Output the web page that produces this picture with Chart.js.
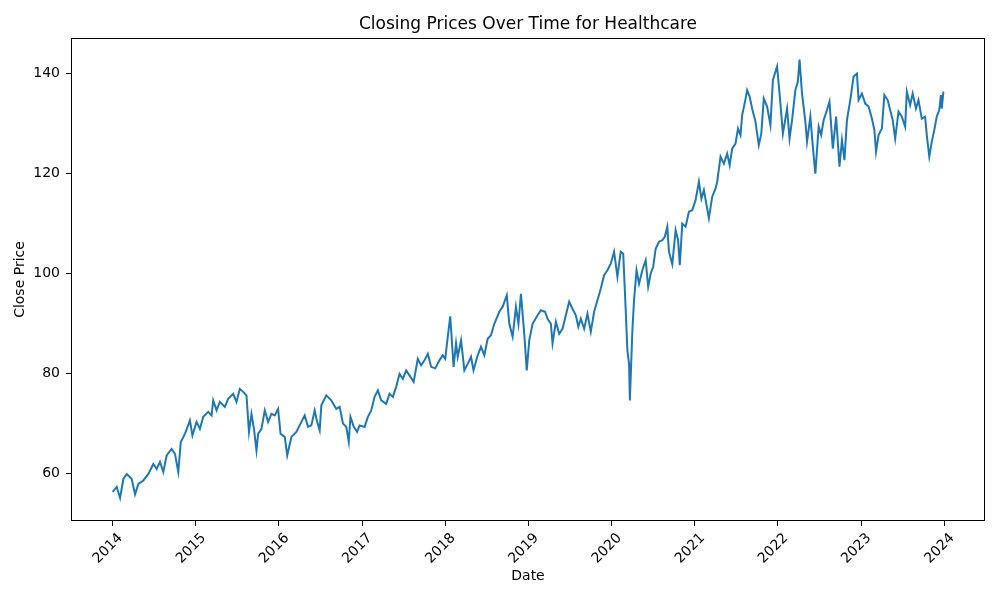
<!DOCTYPE html>
<html lang="en">
<head>
    <meta charset="UTF-8">
    <title>Closing Prices Over Time for Healthcare</title>
    <style>
        body { margin: 0; background: #fff; }
    </style>
</head>
<body>
    <canvas id="priceChart" width="1000" height="600"></canvas>

    <script src="https://cdn.jsdelivr.net/npm/chart.js"></script>
    <script>
        // dates as decimal years
        const dates = [
            2014.00, 2014.05, 2014.09, 2014.13, 2014.17, 2014.23, 2014.27, 2014.31, 2014.37, 2014.43,
            2014.49, 2014.53, 2014.57, 2014.61, 2014.65, 2014.71, 2014.75, 2014.79, 2014.82, 2014.87,
            2014.93, 2014.96, 2015.01, 2015.05, 2015.09, 2015.15, 2015.19, 2015.21, 2015.25, 2015.29,
            2015.35, 2015.39, 2015.45, 2015.49, 2015.53, 2015.57, 2015.61, 2015.64, 2015.67, 2015.70,
            2015.73, 2015.75, 2015.79, 2015.83, 2015.87, 2015.91, 2015.95, 2015.99, 2016.02, 2016.07,
            2016.10, 2016.15, 2016.21, 2016.27, 2016.31, 2016.35, 2016.39, 2016.43, 2016.46, 2016.49,
            2016.51, 2016.57, 2016.63, 2016.69, 2016.73, 2016.77, 2016.81, 2016.84, 2016.86, 2016.90,
            2016.94, 2016.97, 2017.03, 2017.07, 2017.11, 2017.15, 2017.19, 2017.23, 2017.29, 2017.33,
            2017.37, 2017.41, 2017.45, 2017.49, 2017.53, 2017.57, 2017.62, 2017.67, 2017.71, 2017.75,
            2017.79, 2017.83, 2017.88, 2017.93, 2017.97, 2018.00, 2018.03, 2018.06, 2018.10, 2018.13,
            2018.15, 2018.19, 2018.23, 2018.27, 2018.31, 2018.34, 2018.39, 2018.43, 2018.47, 2018.51,
            2018.55, 2018.59, 2018.65, 2018.69, 2018.74, 2018.77, 2018.81, 2018.85, 2018.88, 2018.91,
            2018.95, 2018.98, 2019.01, 2019.05, 2019.11, 2019.15, 2019.20, 2019.23, 2019.27, 2019.29,
            2019.33, 2019.37, 2019.41, 2019.45, 2019.49, 2019.53, 2019.57, 2019.60, 2019.63, 2019.67,
            2019.71, 2019.75, 2019.79, 2019.83, 2019.87, 2019.91, 2019.95, 2019.99, 2020.03, 2020.07,
            2020.11, 2020.14, 2020.17, 2020.19, 2020.21, 2020.22, 2020.25, 2020.27, 2020.30, 2020.33,
            2020.37, 2020.41, 2020.44, 2020.47, 2020.50, 2020.53, 2020.57, 2020.61, 2020.64, 2020.67,
            2020.69, 2020.73, 2020.77, 2020.80, 2020.82, 2020.85, 2020.89, 2020.93, 2020.97, 2021.01,
            2021.05, 2021.08, 2021.11, 2021.17, 2021.21, 2021.25, 2021.27, 2021.31, 2021.35, 2021.39,
            2021.42, 2021.45, 2021.49, 2021.52, 2021.55, 2021.57, 2021.60, 2021.63, 2021.66, 2021.69,
            2021.73, 2021.77, 2021.80, 2021.83, 2021.87, 2021.91, 2021.94, 2021.99, 2022.02, 2022.06,
            2022.11, 2022.14, 2022.17, 2022.21, 2022.24, 2022.26, 2022.29, 2022.33, 2022.35, 2022.39,
            2022.42, 2022.45, 2022.49, 2022.52, 2022.55, 2022.59, 2022.62, 2022.66, 2022.70, 2022.74,
            2022.77, 2022.80, 2022.83, 2022.87, 2022.91, 2022.95, 2022.97, 2023.01, 2023.05, 2023.09,
            2023.13, 2023.16, 2023.18, 2023.21, 2023.25, 2023.28, 2023.32, 2023.35, 2023.38, 2023.41,
            2023.45, 2023.49, 2023.53, 2023.55, 2023.59, 2023.62, 2023.66, 2023.69, 2023.73, 2023.77,
            2023.79, 2023.82, 2023.85, 2023.88, 2023.91, 2023.94, 2023.96, 2023.97, 2023.99
        ];

        const closePrices = [
            56.3, 57.3, 55.1, 58.9, 59.9, 58.9, 55.8, 57.9, 58.6, 59.9,
            61.9, 60.9, 62.3, 60.3, 63.6, 64.9, 63.9, 60.3, 66.3, 67.9,
            70.6, 67.6, 70.3, 68.9, 71.3, 72.3, 71.6, 74.6, 72.6, 74.3,
            73.3, 74.9, 75.9, 74.3, 76.9, 76.3, 75.6, 68.3, 71.9, 68.9,
            64.6, 67.9, 68.9, 72.6, 70.3, 71.9, 71.6, 72.9, 67.9, 67.3,
            63.6, 67.3, 68.3, 70.3, 71.6, 69.3, 69.6, 72.6, 70.3, 68.6,
            73.6, 75.6, 74.6, 72.9, 73.3, 70.0, 69.3, 66.3, 71.3, 69.3,
            68.3, 69.6, 69.3, 71.3, 72.6, 75.3, 76.6, 74.6, 73.9, 75.9,
            75.3, 77.3, 79.9, 78.9, 80.6, 79.6, 78.3, 82.9, 81.6, 82.6,
            83.9, 81.3, 81.0, 82.6, 83.6, 82.9, 87.3, 91.4, 81.3, 86.0,
            83.3, 86.6, 80.6, 81.9, 83.3, 80.6, 83.6, 85.3, 83.6, 86.9,
            87.6, 89.9, 92.3, 93.3, 95.6, 89.9, 87.3, 93.3, 89.9, 95.9,
            87.9, 80.6, 86.6, 89.9, 91.6, 92.6, 92.3, 90.9, 89.9, 86.0,
            90.3, 87.9, 88.9, 91.6, 94.3, 92.9, 91.6, 89.3, 90.9, 88.9,
            91.9, 88.3, 92.3, 94.6, 96.9, 99.6, 100.6, 101.9, 104.3, 99.3,
            104.3, 103.9, 92.6, 84.6, 81.9, 74.6, 88.6, 94.6, 100.6, 97.9,
            100.6, 102.6, 97.3, 99.9, 101.3, 104.9, 106.3, 106.6, 107.3, 109.3,
            104.3, 101.8, 108.6, 106.6, 101.6, 109.9, 109.3, 112.3, 112.6, 114.6,
            118.3, 114.9, 116.6, 111.0, 115.3, 116.9, 118.3, 123.3, 121.9, 123.9,
            121.6, 124.9, 125.9, 128.9, 127.6, 131.6, 133.9, 136.6, 135.3, 132.9,
            130.3, 125.6, 127.9, 134.9, 133.3, 129.6, 138.6, 141.3, 135.9, 127.9,
            132.9, 126.9, 130.6, 136.6, 138.3, 142.7, 135.9, 130.3, 126.3, 131.3,
            125.3, 119.9, 129.3, 127.6, 130.6, 132.6, 134.3, 124.9, 131.3, 121.3,
            126.6, 122.6, 130.6, 134.6, 139.3, 139.9, 134.6, 135.9, 133.9, 133.3,
            130.9, 128.6, 124.3, 127.6, 128.9, 135.6, 134.6, 132.6, 130.6, 126.9,
            132.3, 131.3, 129.3, 136.3, 133.6, 135.9, 132.9, 134.6, 130.9, 131.3,
            127.6, 123.3, 126.3, 128.6, 131.3, 132.6, 135.6, 132.9, 136.3
        ];

        const yearTicks = [2014, 2015, 2016, 2017, 2018, 2019, 2020, 2021, 2022, 2023, 2024];
        const priceTicks = [60, 80, 100, 120, 140];

        const chartTitle = 'Closing Prices Over Time for Healthcare';
        const fontFamily = "'DejaVu Sans', sans-serif";

        // matplotlib-style box around the axes + title centred over the plot
        const framePlugin = {
            id: 'frame',
            afterDraw(chart) {
                const { ctx, chartArea } = chart;
                ctx.save();
                ctx.strokeStyle = '#000';
                ctx.lineWidth = 1;
                ctx.strokeRect(chartArea.left + 0.5, chartArea.top + 0.5,
                    chartArea.right - chartArea.left - 1, chartArea.bottom - chartArea.top - 1);
                ctx.fillStyle = '#000';
                ctx.font = '17px ' + fontFamily;
                ctx.textAlign = 'center';
                ctx.textBaseline = 'middle';
                ctx.fillText(chartTitle, (chartArea.left + chartArea.right) / 2, 25);
                ctx.restore();
            }
        };

        const points = dates.map((d, i) => ({ x: d, y: closePrices[i] }));

        const ctx = document.getElementById('priceChart').getContext('2d');
        new Chart(ctx, {
            type: 'line',
            data: {
                datasets: [{
                    label: 'Close Price',
                    data: points,
                    borderColor: '#1f77b4',
                    borderWidth: 2,
                    pointRadius: 0,
                    tension: 0,
                    fill: false
                }]
            },
            options: {
                responsive: false,
                animation: false,
                layout: { padding: { top: 38, right: 15, bottom: 0, left: 0 } },
                plugins: {
                    legend: { display: false },
                    tooltip: { enabled: false }
                },
                scales: {
                    x: {
                        type: 'linear',
                        min: 2013.5,
                        max: 2024.49,
                        afterFit: scale => { scale.height = 79; },
                        afterBuildTicks: scale => { scale.ticks = yearTicks.map(v => ({ value: v })); },
                        border: { display: false },
                        grid: { drawOnChartArea: false, color: '#000', tickLength: 5 },
                        ticks: {
                            color: '#000',
                            font: { family: fontFamily, size: 14 },
                            minRotation: 45,
                            maxRotation: 45,
                            labelOffset: 8,
                            padding: 4,
                            callback: v => String(v)
                        },
                        title: {
                            display: true,
                            text: 'Date',
                            color: '#000',
                            font: { family: fontFamily, size: 14 },
                            padding: { top: 0, bottom: 15 }
                        }
                    },
                    y: {
                        min: 50.5,
                        max: 147,
                        afterFit: scale => { scale.width = 71; },
                        afterBuildTicks: scale => { scale.ticks = priceTicks.map(v => ({ value: v })); },
                        border: { display: false },
                        grid: { drawOnChartArea: false, color: '#000', tickLength: 5 },
                        ticks: {
                            color: '#000',
                            font: { family: fontFamily, size: 14 },
                            padding: 6
                        },
                        title: {
                            display: true,
                            text: 'Close Price',
                            color: '#000',
                            font: { family: fontFamily, size: 14 },
                            padding: { top: 12, bottom: 0 }
                        }
                    }
                }
            },
            plugins: [framePlugin]
        });
    </script>
</body>
</html>
